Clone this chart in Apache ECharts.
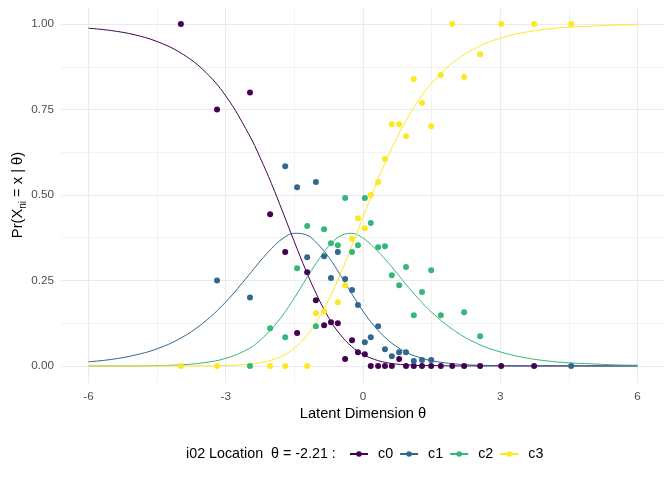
<!DOCTYPE html>
<html>
<head>
<meta charset="utf-8">
<script src="https://cdn.jsdelivr.net/npm/echarts@6/dist/echarts.min.js"></script>
<style>
  html, body { margin: 0; padding: 0; background: #fff; }
  #main { width: 672px; height: 480px; }
</style>
</head>
<body>
<div id="main"></div>
<script>
var myChart = echarts.init(document.getElementById('main'));

var thetaGrid = [-6, -5.5, -5, -4.5, -4, -3.5, -3, -2.5, -2.25, -2, -1.75, -1.5, -1.25, -1, -0.75, -0.5, -0.25, 0, 0.25, 0.5, 0.75, 1, 1.25, 1.5, 2, 2.5, 3, 3.5, 4, 4.5, 5, 5.5, 6];
var curveC0 = [0.988, 0.981, 0.969, 0.949, 0.917, 0.867, 0.790, 0.679, 0.610, 0.533, 0.449, 0.363, 0.280, 0.205, 0.141, 0.092, 0.057, 0.034, 0.019, 0.010, 0.005, 0.003, 0.001, 0.001, 0, 0, 0, 0, 0, 0, 0, 0, 0];
var curveC1 = [0.012, 0.019, 0.031, 0.050, 0.080, 0.125, 0.187, 0.265, 0.306, 0.343, 0.373, 0.388, 0.384, 0.358, 0.318, 0.267, 0.212, 0.160, 0.116, 0.081, 0.055, 0.036, 0.024, 0.015, 0.006, 0.002, 0.001, 0, 0, 0, 0, 0, 0];
var curveC2 = [0, 0, 0, 0.001, 0.003, 0.009, 0.022, 0.050, 0.075, 0.108, 0.149, 0.199, 0.253, 0.305, 0.350, 0.380, 0.388, 0.374, 0.345, 0.310, 0.270, 0.229, 0.191, 0.157, 0.103, 0.065, 0.041, 0.025, 0.015, 0.009, 0.006, 0.003, 0.002];
var curveC3 = [0, 0, 0, 0, 0, 0, 0.001, 0.005, 0.009, 0.017, 0.030, 0.052, 0.085, 0.132, 0.193, 0.267, 0.349, 0.435, 0.520, 0.599, 0.670, 0.732, 0.784, 0.827, 0.891, 0.932, 0.959, 0.975, 0.985, 0.991, 0.994, 0.997, 0.998];

// observed proportions per theta group (null = not visible)
var pointTheta = [-3.98, -3.19, -2.47, -2.03, -1.70, -1.44, -1.22, -1.03, -0.85, -0.70, -0.55, -0.39, -0.24, -0.11, 0.04, 0.17, 0.33, 0.48, 0.63, 0.79, 0.94, 1.11, 1.29, 1.49, 1.70, 1.95, 2.21, 2.56, 3.02, 3.74, 4.55];
var pointC0 = [1.0, 0.75, 0.80, 0.444, 0.333, 0.096, 0.274, 0.192, 0.119, 0.128, 0.125, 0.020, 0.075, 0.040, 0.034, 0, 0, 0, 0, 0.020, 0, 0, 0, 0, 0, 0, 0, 0, 0, 0, null];
var pointC1 = [null, 0.25, 0.20, null, 0.584, 0.523, 0.318, 0.538, 0.321, 0.257, 0.333, 0.254, 0.222, 0.178, 0.069, 0.084, 0.116, 0.049, 0.028, 0.040, 0.040, 0.014, 0.017, 0.017, null, null, null, null, null, null, 0];
var pointC2 = [null, null, 0, 0.110, 0.084, 0.286, 0.409, 0.116, 0.400, 0.359, 0.353, 0.491, 0.333, 0.353, 0.491, 0.418, 0.347, 0.350, 0.265, 0.236, 0.289, 0.148, 0.216, 0.280, 0.148, null, 0.157, 0.087, null, null, null];
var pointC3 = [0, 0, null, 0, 0, null, 0, 0.154, 0.160, null, 0.186, 0.236, 0.371, 0.432, 0.403, 0.500, 0.538, 0.605, 0.707, 0.707, 0.672, 0.839, 0.769, 0.701, 0.851, 1.0, 0.845, 0.912, 1.0, 1.0, 1.0];

var categories = ['c0', 'c1', 'c2', 'c3'];
var colors = ['#440154', '#31688E', '#35B779', '#FDE725'];
var xTicks = [-6, -3, 0, 3, 6];
var xMinor = [-4.5, -1.5, 1.5, 4.5];
var yTicks = [0, 0.25, 0.5, 0.75, 1];
var yMinor = [0.125, 0.375, 0.625, 0.875];

var font = '"Liberation Sans", Arial, sans-serif';

function pairs(xs, ys) {
  var out = [];
  for (var i = 0; i < xs.length; i++) {
    if (ys[i] !== null) out.push([xs[i], ys[i]]);
  }
  return out;
}

var curves = [curveC0, curveC1, curveC2, curveC3];
var points = [pointC0, pointC1, pointC2, pointC3];
var series = [];
categories.forEach(function (c, i) {
  series.push({
    name: c,
    type: 'line',
    data: pairs(thetaGrid, curves[i]),
    smooth: 0.4,
    showSymbol: false,
    symbol: 'circle',
    symbolSize: 5,
    lineStyle: { color: colors[i], width: 1 },
    itemStyle: { color: colors[i] },
    silent: true,
    z: 2
  });
});
categories.forEach(function (c, i) {
  series.push({
    name: c,
    type: 'scatter',
    data: pairs(pointTheta, points[i]),
    symbol: 'circle',
    symbolSize: 6,
    itemStyle: { color: colors[i], opacity: 1 },
    z: 3
  });
});

var gridLine = { show: true, lineStyle: { color: '#EBEBEB', width: 1 } };
var minorLine = { show: true, lineStyle: { color: '#EBEBEB', width: 0.6 } };

option = {
  animation: false,
  textStyle: { fontFamily: font },
  grid: { left: 61, right: 7, top: 7, bottom: 97, containLabel: false, outerBoundsMode: 'none' },
  title: {
    text: 'i02 Location  θ = -2.21 :',
    left: 186,
    top: 447,
    padding: 0,
    textStyle: { fontFamily: font, fontSize: 14.3, fontWeight: 'normal', color: '#000' }
  },
  legend: {
    data: categories,
    left: 349,
    top: 447,
    padding: 0,
    itemWidth: 18,
    itemHeight: 7,
    itemGap: 6,
    textStyle: { fontFamily: font, fontSize: 14.3, color: '#000', padding: [0, 0, 0, 5] }
  },
  xAxis: [{
    type: 'value',
    min: -6.6,
    max: 6.6,
    axisLine: { show: false },
    axisTick: { show: false, customValues: xTicks },
    axisLabel: { customValues: xTicks, color: '#4D4D4D', fontSize: 11.7, margin: 8, fontFamily: font },
    splitLine: gridLine,
    name: 'Latent Dimension θ',
    nameLocation: 'middle',
    nameGap: 23,
    nameMoveOverlap: false,
    nameTextStyle: { color: '#000', fontSize: 14.7, fontFamily: font }
  }, {
    type: 'value',
    min: -6.6,
    max: 6.6,
    axisLine: { show: false },
    axisTick: { show: false, customValues: xMinor },
    axisLabel: { show: false, customValues: xMinor },
    splitLine: minorLine
  }],
  yAxis: [{
    type: 'value',
    min: -0.05,
    max: 1.05,
    axisLine: { show: false },
    axisTick: { show: false, customValues: yTicks },
    axisLabel: {
      customValues: yTicks, color: '#4D4D4D', fontSize: 11.7, margin: 7, fontFamily: font,
      formatter: function (v) { return v.toFixed(2); }
    },
    splitLine: gridLine,
    name: 'Pr(X{sub|ni} = x | θ)',
    nameLocation: 'middle',
    nameGap: 33,
    nameMoveOverlap: false,
    nameTextStyle: {
      color: '#000', fontSize: 14.7, fontFamily: font, lineHeight: 20,
      rich: { sub: { fontSize: 10, fontFamily: font, color: '#000', lineHeight: 20, verticalAlign: 'bottom' } }
    }
  }, {
    type: 'value',
    min: -0.05,
    max: 1.05,
    axisLine: { show: false },
    axisTick: { show: false, customValues: yMinor },
    axisLabel: { show: false, customValues: yMinor },
    splitLine: minorLine
  }],
  series: series
};

myChart.setOption(option);
</script>
</body>
</html>
